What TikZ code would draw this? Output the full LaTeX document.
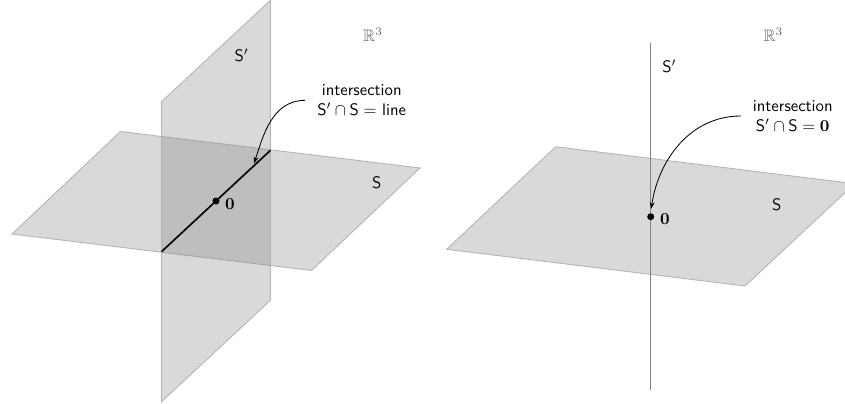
\documentclass[tikz,border=0pt]{standalone}
\usepackage{amssymb}
\usetikzlibrary{arrows.meta,calc}

\begin{document}
\begin{tikzpicture}[
  x=0.6pt, y=-0.6pt,
  plane/.style={fill=gray, fill opacity=0.3, draw=gray!60, line width=0.5pt},
  meet/.style={line width=1pt},
  axisline/.style={draw=gray, line width=0.8pt},
  dot/.style={circle, fill, inner sep=0pt, minimum size=4.2pt},
  lbl/.style={font=\sffamily},
  space/.style={text=black!60},
  info/.style={align=center, font=\sffamily, inner sep=1pt},
  callout/.style={-{Stealth[length=4pt,width=3pt]}, line width=0.5pt}
]
\useasboundingbox (0,0) rectangle (845,403);
\clip (0,0) rectangle (845,403);

% left: two planes meeting in a line
\draw[plane] (12,234) -- (120.5,131.5) -- (420,168) -- (311.5,270.5) -- cycle;
\draw[plane] (161.5,401.7) -- (161.5,101.7) -- (270.5,0.3) -- (270.5,300.3) -- cycle;
\coordinate (lineA) at (161.5,251.7);
\coordinate (lineB) at (270.5,150.3);
\draw[meet] (lineA) -- (lineB);
\coordinate (tip1) at ($(lineA)!0.84!(lineB)$);
\node[dot] (zero1) at (216,201) {};
\node (zlab1) at (230,204) {$\mathbf{0}$};
\node[lbl] (sp1) at (241.7,55) {$\mathsf{S}'$};
\node[lbl] (s1) at (376.7,183) {$\mathsf{S}$};
\node[space] (r1) at (373,35) {$\mathbb{R}^3$};
\node[info] (info1) at (361.7,100.3) {intersection\\$\mathsf{S}'\cap\mathsf{S}=$ line};
\draw[callout, shorten >=2pt] ([xshift=-6pt]info1.west) to[out=180, in=72] (tip1);

% right: a plane and a line meeting in a point
\draw[plane] (446.7,249.3) -- (555.7,146.7) -- (854.7,183.7) -- (745,286) -- cycle;
\coordinate (topB) at (650.7,42.7);
\coordinate (botB) at (650.7,390);
\draw[axisline] (topB) -- (botB);
\node[dot] (zero2) at (650.7,216.7) {};
\node (zlab2) at (665,219) {$\mathbf{0}$};
\node[lbl] (sp2) at (669.3,66.7) {$\mathsf{S}'$};
\node[lbl] (s2) at (776.7,205) {$\mathsf{S}$};
\node[space] (r2) at (773.3,35) {$\mathbb{R}^3$};
\node[info] (info2) at (792.7,116) {intersection\\$\mathsf{S}'\cap\mathsf{S}=\mathbf{0}$};
\draw[callout, shorten >=2.5pt] ([xshift=-6pt]info2.west) to[out=180, in=82] (zero2.north);
\end{tikzpicture}
\end{document}
